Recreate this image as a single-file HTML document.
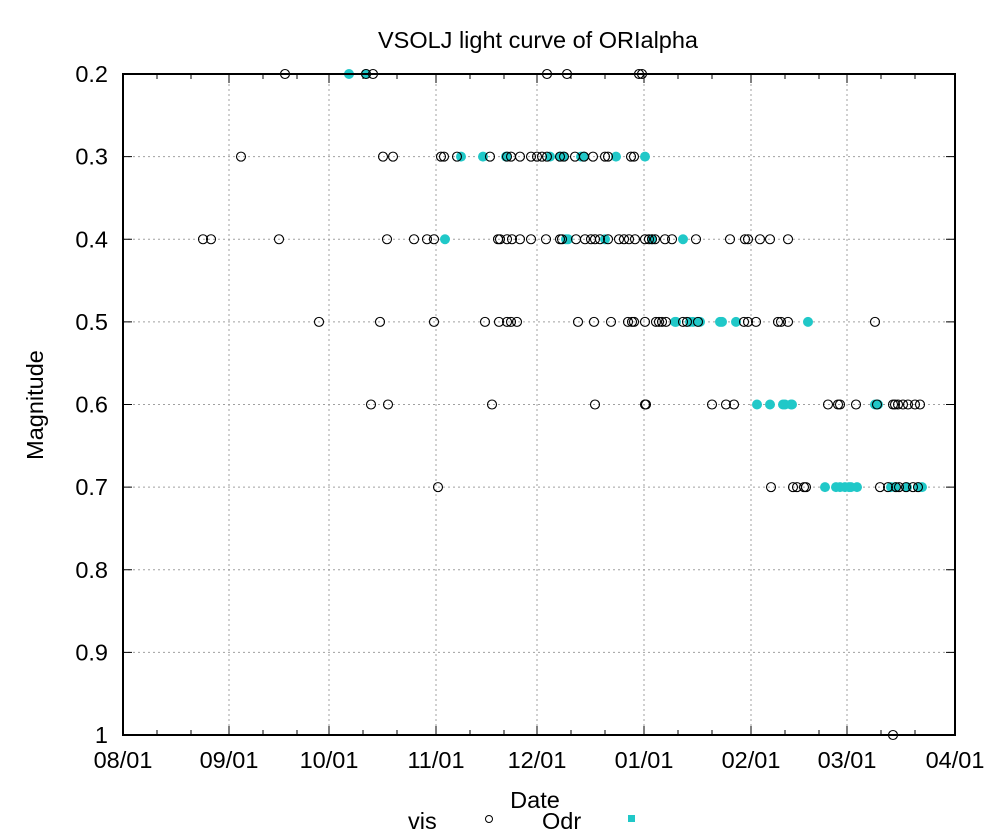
<!DOCTYPE html>
<html><head><meta charset="utf-8"><style>
html,body{margin:0;padding:0;background:#fff;}
svg{display:block;font-family:"Liberation Sans",sans-serif;}
</style></head><body>
<svg id="s" width="1001" height="840" viewBox="0 0 1001 840" xmlns="http://www.w3.org/2000/svg">
<rect width="1001" height="840" fill="#fff"/>
<g id="grid" stroke="#a0a0a0" stroke-width="1" stroke-dasharray="2,3"></g>
<g id="ticks" stroke="#000" stroke-width="1"></g>
<g id="pts"></g>
<rect x="123" y="74" width="832" height="661" fill="none" stroke="#000" stroke-width="2"/>
<g id="lab" font-size="23.5" fill="#000"></g>
<text x="538" y="48" font-size="23.5" text-anchor="middle">VSOLJ light curve of ORIalpha</text>
<text x="535" y="808" font-size="23.5" text-anchor="middle">Date</text>
<text transform="translate(43,405) rotate(-90)" font-size="23.5" text-anchor="middle">Magnitude</text>
<text x="408" y="829" font-size="23.5">vis</text>
<circle cx="489" cy="819" r="3.5" fill="none" stroke="#000" stroke-width="1"/>
<text x="542" y="829" font-size="23.5">Odr</text>
<rect x="628" y="815" width="7" height="7" fill="#20c8c8"/>
</svg>
<script>
var NS="http://www.w3.org/2000/svg";
function el(p,t,a){var e=document.createElementNS(NS,t);for(var k in a)e.setAttribute(k,a[k]);p.appendChild(e);return e;}
var g=document.getElementById('grid'),tk=document.getElementById('ticks'),lab=document.getElementById('lab'),pts=document.getElementById('pts');
var mx=[123,229,329,436,537,644,751,847,955],ml=["08/01","09/01","10/01","11/01","12/01","01/01","02/01","03/01","04/01"];
for(var i=0;i<mx.length;i++){
 if(i>0&&i<mx.length-1)el(g,'line',{x1:mx[i],y1:74,x2:mx[i],y2:735});
 el(tk,'line',{x1:mx[i],y1:735,x2:mx[i],y2:726});el(tk,'line',{x1:mx[i],y1:74,x2:mx[i],y2:83});
 var t=el(lab,'text',{x:mx[i],y:768,'text-anchor':'middle'});t.textContent=ml[i];
 if(i<mx.length-1){for(var j=1;j<=2;j++){var x=mx[i]+34*j;if(x<mx[i+1]-10){el(tk,'line',{x1:x,y1:735,x2:x,y2:730});el(tk,'line',{x1:x,y1:74,x2:x,y2:79});}}}
}
var yl=["0.2","0.3","0.4","0.5","0.6","0.7","0.8","0.9","1"];
for(var i=0;i<9;i++){var y=74+i*82.625;
 if(i>0&&i<8)el(g,'line',{x1:123,y1:y,x2:955,y2:y});
 el(tk,'line',{x1:123,y1:y,x2:132,y2:y});el(tk,'line',{x1:955,y1:y,x2:946,y2:y});
 var t=el(lab,'text',{x:108,y:y+8,'text-anchor':'end'});t.textContent=yl[i];}
var vis={0:[285,366,373,547,567,639,642],1:[241,383,393,441,444,457,490,507,511,520,531,537,542,547,560,564,575,584,593,605,608,631,634],
2:[203,211,279,387,414,427,434,498,500,507,512,520,531,546,560,562,576,585,591,595,600,608,619,624,629,635,645,649,652,655,665,672,696,730,745,748,760,770,788],
3:[319,380,434,485,499,507,511,517,578,594,611,628,632,634,645,656,659,662,666,683,687,698,744,748,756,778,781,788,875],
4:[371,388,492,595,645,646,712,726,734,828,838,840,856,877,893,895,898,903,908,915,920],
5:[438,771,793,797,804,806,880,888,896,899,906,913,918],8:[893]};
var odr={0:[349,366],1:[461,483,506,550,560,563,581,584,616,645],2:[445,566,568,605,652,683],3:[675,676,690,693,700,720,722,736,808],
4:[757,770,783,785,791,792,875,878],5:[825,836,840,845,849,851,857,891,895,907,919,922]};
for(var r in odr){var y=74+r*82.625;odr[r].forEach(function(x){el(pts,'circle',{cx:x,cy:y,r:5,fill:'#20c8c8'});});}
for(var r in vis){var y=74+r*82.625;vis[r].forEach(function(x){el(pts,'circle',{cx:x,cy:y,r:4.5,fill:'none',stroke:'#000','stroke-width':1.1});});}
</script>
</body></html>
